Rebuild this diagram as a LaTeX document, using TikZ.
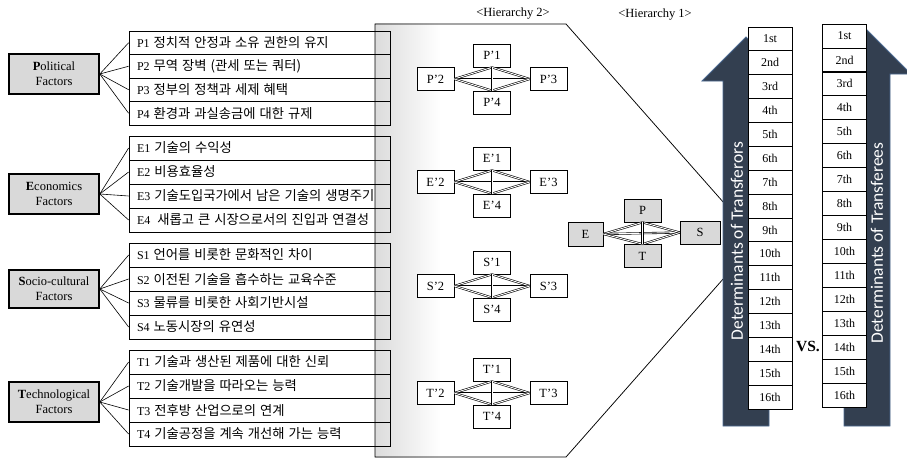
\documentclass[tikz,border=0pt]{standalone}
\usepackage{fontspec}
\setmainfont{Liberation Serif}
\newfontfamily\kr{Noto Sans CJK KR}
\newfontfamily\carl{Carlito}
\definecolor{fgray}{HTML}{D9D9D9}
\definecolor{navy}{HTML}{333F50}
\definecolor{navyedge}{HTML}{4A6890}
\tikzset{
  factor/.style={draw, line width=1.6pt, fill=fgray, minimum width=90pt, minimum height=40pt, align=center, inner sep=0pt, font=\fontsize{12.5}{15}\selectfont},
  itembox/.style={draw, line width=0.75pt, minimum width=261pt, minimum height=23.5pt, text width=245pt, inner xsep=8pt, inner ysep=0pt, align=left, font=\fontsize{12}{14}\selectfont},
  hbox/.style={draw, line width=0.7pt, fill=white, minimum width=37pt, minimum height=23pt, inner sep=0pt, font=\fontsize{12.5}{14}\selectfont},
  honebox/.style={hbox, fill=fgray},
  rankbox/.style={draw, line width=0.8pt, fill=white, minimum width=44pt, minimum height=23.9pt, inner sep=0pt, font=\fontsize{12}{14}\selectfont},
  dl/.style={double, double distance=0.9pt, line width=0.6pt},
  fan/.style={line width=0.6pt},
  lbl/.style={font=\fontsize{12.5}{14}\selectfont},
  det/.style={rotate=90, text=white, inner sep=0pt, font=\carl\fontsize{17.5}{20}\selectfont},
}
\newcommand{\krt}[1]{{\kr\fontsize{13.3}{15}\selectfont #1}}
\begin{document}
\begin{tikzpicture}[x=1pt,y=-1pt]
\useasboundingbox (0,0) rectangle (907,460);
% panel
\fill[white] (375,24) -- (566,24) -- (724,203) -- (724,278) -- (566,457) -- (375,457) -- cycle;
\shade[left color=black!14, right color=white] (375,24) rectangle (440,457);
% item white fills
\foreach \t/\b in {31/125, 136/232, 243/339, 350/446} {
  \fill[white] (129,\t) rectangle (375,\b);
}
\draw[line width=0.75pt] (724,278) -- (566,457) -- (375,457) -- (375,24) -- (566,24) -- (724,203);

\node[lbl] (h2) at (513,14) {<Hierarchy 2>};
\node[lbl] (h1) at (655,15) {<Hierarchy 1>};

% factor boxes
\node[factor] (fP) at (54,74) {\textbf{P}olitical\\Factors};
\node[factor] (fE) at (54,194) {\textbf{E}conomics\\Factors};
\node[factor, minimum height=38pt] (fS) at (54,289) {\textbf{S}ocio-cultural\\Factors};
\node[factor] (fT) at (54,402) {\textbf{T}echnological\\Factors};

% items
\node[itembox] (P1) at (259.5,42.75) {P1\hspace{4pt}\krt{정치적 안정과 소유 권한의 유지}};
\node[itembox] (P2) at (259.5,66.25) {P2\hspace{4pt}\krt{무역 장벽 (관세 또는 쿼터)}};
\node[itembox] (P3) at (259.5,89.75) {P3\hspace{4pt}\krt{정부의 정책과 세제 혜택}};
\node[itembox] (P4) at (259.5,113.25) {P4\hspace{4pt}\krt{환경과 과실송금에 대한 규제}};
\node[itembox, minimum height=24pt] (E1) at (259.5,148) {E1\hspace{4pt}\krt{기술의 수익성}};
\node[itembox, minimum height=24pt] (E2) at (259.5,172) {E2\hspace{4pt}\krt{비용효율성}};
\node[itembox, minimum height=24pt] (E3) at (259.5,196) {E3\hspace{4pt}\krt{기술도입국가에서 남은 기술의 생명주기}};
\node[itembox, minimum height=24pt] (E4) at (259.5,220) {E4\hspace{7pt}\krt{새롭고 큰 시장으로서의 진입과 연결성}};
\node[itembox, minimum height=24pt] (S1) at (259.5,255) {S1\hspace{4pt}\krt{언어를 비롯한 문화적인 차이}};
\node[itembox, minimum height=24pt] (S2) at (259.5,279) {S2\hspace{4pt}\krt{이전된 기술을 흡수하는 교육수준}};
\node[itembox, minimum height=24pt] (S3) at (259.5,303) {S3\hspace{4pt}\krt{물류를 비롯한 사회기반시설}};
\node[itembox, minimum height=24pt] (S4) at (259.5,327) {S4\hspace{4pt}\krt{노동시장의 유연성}};
\node[itembox, minimum height=24pt] (T1) at (259.5,362) {T1\hspace{4pt}\krt{기술과 생산된 제품에 대한 신뢰}};
\node[itembox, minimum height=24pt] (T2) at (259.5,386) {T2\hspace{4pt}\krt{기술개발을 따라오는 능력}};
\node[itembox, minimum height=24pt] (T3) at (259.5,410) {T3\hspace{4pt}\krt{전후방 산업으로의 연계}};
\node[itembox, minimum height=24pt] (T4) at (259.5,434) {T4\hspace{4pt}\krt{기술공정을 계속 개선해 가는 능력}};

\foreach \g in {P,E,S,T} {
  \foreach \i in {1,2,3,4} {
    \draw[fan] (f\g.east) -- (\g\i.west);
  }
}

% hierarchy 2 groups
\foreach \g/\cy in {P/79, E/182, S/286, T/393} {
  \node[hbox] (h\g1) at (492,{\cy-23.5}) {\g’1};
  \node[hbox] (h\g2) at (435.5,\cy) {\g’2};
  \node[hbox] (h\g3) at (548.5,\cy) {\g’3};
  \node[hbox] (h\g4) at (492,{\cy+23.5}) {\g’4};
  \draw[dl] (h\g2.east) -- (h\g3.west);
  \draw[dl] (h\g2.east) -- (h\g1.south);
  \draw[dl] (h\g2.east) -- (h\g4.north);
  \draw[dl] (h\g3.west) -- (h\g1.south);
  \draw[dl] (h\g3.west) -- (h\g4.north);
  \draw[dl] (h\g1.south) -- (h\g4.north);
}

% hierarchy 1
\node[honebox] (oP) at (642.5,210.5) {P};
\node[honebox] (oT) at (642.5,256) {T};
\node[honebox, minimum width=35pt, minimum height=24pt] (oE) at (585.5,234) {E};
\node[honebox, minimum width=40pt] (oS) at (700,232.5) {S};
\draw[dl] (oE.east) -- (oS.west);
\draw[dl] (oE.east) -- (oP.south);
\draw[dl] (oE.east) -- (oT.north);
\draw[dl] (oS.west) -- (oP.south);
\draw[dl] (oS.west) -- (oT.north);
\draw[dl] (oP.south) -- (oT.north);

% arrows
\filldraw[fill=navy, draw=navyedge, line width=0.8pt]
  (723,426) -- (769,426) -- (769,81) -- (790,81) -- (746,37) -- (702,81) -- (723,81) -- cycle;
\filldraw[fill=navy, draw=navyedge, line width=0.8pt]
  (844,426) -- (890,426) -- (890,74) -- (911,74) -- (867,30) -- (823,74) -- (844,74) -- cycle;
\node[det] (d1) at (737,241) {Determinants of Transferors};
\node[det] (d2) at (877,243) {Determinants of Transferees};

% rank boxes
\foreach \i/\t in {1/1st,2/2nd,3/3rd,4/4th,5/5th,6/6th,7/7th,8/8th,9/9th,10/10th,11/11th,12/12th,13/13th,14/14th,15/15th,16/16th} {
  \node[rankbox] (ra\i) at (770,{27+(\i-0.5)*23.875}) {\t};
  \node[rankbox] (rb\i) at (844.5,{24+(\i-0.5)*23.94}) {\t};
}
\node[font=\bfseries\fontsize{15.5}{18}\selectfont, inner sep=0pt] (vs) at (808,346) {VS.};
\end{tikzpicture}
\end{document}
